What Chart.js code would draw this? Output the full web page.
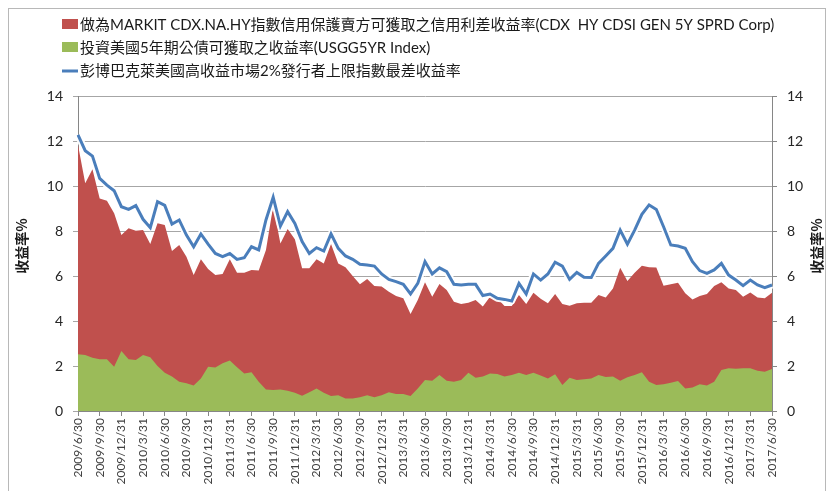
<!DOCTYPE html>
<html>
<head>
<meta charset="utf-8">
<script src="https://cdn.jsdelivr.net/npm/chart.js@4.4.1/dist/chart.umd.min.js"></script>
<style>
  html, body { margin: 0; padding: 0; background: #fff; }
  #wrap { position: relative; width: 832px; height: 491px; }
  canvas { display: block; }
</style>
</head>
<body>
<div id="wrap"><canvas id="chart" width="832" height="491"></canvas></div>
<script>
// ---- data (monthly, 2009/6/30 .. 2017/6/30) ----
const startYear = 2009, startMonth = 6, monthCount = 97;

const seriesNames = [
  '做為MARKIT CDX.NA.HY指數信用保護賣方可獲取之信用利差收益率(CDX  HY CDSI GEN 5Y SPRD Corp)',
  '投資美國5年期公債可獲取之收益率(USGG5YR Index)',
  '彭博巴克萊美國高收益市場2%發行者上限指數最差收益率'
];

// CDX HY spread yield (red area)
const cdxSpread = [
  11.82, 10.12, 10.74, 9.45, 9.35, 8.79, 7.82, 8.12, 8.01, 8.04, 7.42, 8.34, 8.27,
  7.11, 7.38, 6.86, 6.04, 6.74, 6.31, 6.04, 6.09, 6.74, 6.15, 6.15, 6.27, 6.24,
  7.16, 9.11, 7.45, 8.09, 7.63, 6.34, 6.34, 6.74, 6.56, 7.42, 6.56, 6.39, 6.00,
  5.63, 5.87, 5.56, 5.53, 5.30, 5.11, 5.01, 4.31, 4.93, 5.72, 5.08, 5.64, 5.38,
  4.86, 4.76, 4.81, 4.93, 4.64, 5.08, 5.01, 4.67, 4.67, 5.16, 4.76, 5.26, 4.99,
  4.79, 5.20, 4.76, 4.68, 4.79, 4.81, 4.81, 5.16, 5.04, 5.45, 6.37, 5.78, 6.15,
  6.46, 6.39, 6.38, 5.57, 5.63, 5.70, 5.23, 4.96, 5.11, 5.20, 5.56, 5.72, 5.45,
  5.38, 5.08, 5.27, 5.04, 5.01, 5.26
];

// US 5Y treasury yield (green area)
const treasury5y = [
  2.52, 2.49, 2.37, 2.30, 2.30, 1.97, 2.67, 2.30, 2.27, 2.49, 2.39, 2.00, 1.70,
  1.53, 1.30, 1.23, 1.13, 1.45, 1.97, 1.93, 2.12, 2.24, 1.94, 1.67, 1.72, 1.30,
  0.96, 0.93, 0.96, 0.90, 0.81, 0.68, 0.83, 1.00, 0.81, 0.67, 0.70, 0.56, 0.56,
  0.61, 0.70, 0.61, 0.70, 0.83, 0.76, 0.76, 0.67, 1.00, 1.38, 1.35, 1.60, 1.35,
  1.30, 1.38, 1.70, 1.48, 1.53, 1.67, 1.64, 1.53, 1.60, 1.70, 1.60, 1.70, 1.58,
  1.45, 1.63, 1.16, 1.48, 1.38, 1.41, 1.45, 1.60, 1.51, 1.53, 1.35, 1.50, 1.60,
  1.72, 1.30, 1.16, 1.19, 1.26, 1.33, 1.00, 1.04, 1.19, 1.13, 1.30, 1.82, 1.90,
  1.88, 1.90, 1.90, 1.79, 1.75, 1.87
];

// HY 2% issuer cap yield to worst (blue line)
const yieldToWorst = [
  12.27, 11.57, 11.33, 10.34, 10.04, 9.79, 9.08, 8.96, 9.13, 8.52, 8.15, 9.30, 9.14,
  8.31, 8.49, 7.82, 7.30, 7.87, 7.42, 7.00, 6.86, 7.00, 6.74, 6.81, 7.30, 7.16,
  8.49, 9.50, 8.22, 8.86, 8.34, 7.53, 7.00, 7.26, 7.11, 7.87, 7.23, 6.89, 6.74,
  6.52, 6.49, 6.44, 6.09, 5.85, 5.75, 5.63, 5.20, 5.67, 6.64, 6.09, 6.36, 6.19,
  5.63, 5.60, 5.63, 5.63, 5.13, 5.20, 5.01, 4.96, 4.89, 5.67, 5.20, 6.09, 5.82,
  6.09, 6.61, 6.44, 5.85, 6.16, 5.94, 5.93, 6.56, 6.89, 7.23, 8.04, 7.41, 8.04,
  8.74, 9.16, 8.96, 8.19, 7.38, 7.33, 7.23, 6.64, 6.24, 6.12, 6.27, 6.56, 6.04,
  5.82, 5.57, 5.82, 5.60, 5.48, 5.60
];

const yTicks = [0, 2, 4, 6, 8, 10, 12, 14];
const axisTitle = '收益率%';

// month-end labels, e.g. 2009/6/30
const labels = [];
for (let i = 0; i < monthCount; i++) {
  const m0 = startMonth - 1 + i;
  const y = startYear + Math.floor(m0 / 12);
  const m = (m0 % 12) + 1;
  const d = new Date(y, m, 0).getDate();
  labels.push(y + '/' + m + '/' + d);
}

const colors = { red: '#C0504D', green: '#9BBB59', blue: '#4A7EBB' };
const CJK = '"Noto Sans CJK TC", "Noto Sans CJK SC", sans-serif';

// white halo under the blue line
const lineHalo = {
  id: 'lineHalo',
  beforeDatasetDraw(chart, args) {
    if (args.index !== 2) return;
    const pts = args.meta.data;
    const ctx = chart.ctx;
    ctx.save();
    ctx.beginPath();
    pts.forEach((p, i) => i ? ctx.lineTo(p.x, p.y) : ctx.moveTo(p.x, p.y));
    ctx.strokeStyle = 'rgba(255,255,255,0.95)';
    ctx.lineWidth = 7;
    ctx.lineJoin = 'round';
    ctx.stroke();
    ctx.restore();
  }
};

// legend (stacked, top-left), axis titles and outer frame
const decorations = {
  id: 'decorations',
  afterDraw(chart) {
    const ctx = chart.ctx;
    ctx.save();
    // frame
    ctx.strokeStyle = '#b8b8b8';
    ctx.lineWidth = 1;
    ctx.strokeRect(8.5, 8.5, 817, 600);

    // legend
    const rows = [24, 47, 70];
    const widths = [698, 380, 425];
    ctx.font = '15px Lato, ' + CJK;
    ctx.textBaseline = 'middle';
    ctx.fillStyle = '#1a1a1a';
    chart.data.datasets.forEach((ds, i) => {
      const y = rows[i];
      if (i < 2) {
        ctx.fillStyle = ds.backgroundColor;
        ctx.fillRect(62, y - 5, 16, 10);
      } else {
        ctx.strokeStyle = ds.borderColor;
        ctx.lineWidth = 3;
        ctx.beginPath();
        ctx.moveTo(62, y + 1);
        ctx.lineTo(78, y + 1);
        ctx.stroke();
      }
      ctx.fillStyle = '#1a1a1a';
      ctx.textAlign = 'left';
      const w = ctx.measureText(ds.label).width;
      ctx.fillText(ds.label, 80, y + 1, Math.min(w, widths[i]));
    });

    // axis titles
    ctx.font = 'bold 14px ' + CJK;
    ctx.textAlign = 'center';
    ctx.textBaseline = 'middle';
    ctx.fillStyle = '#1a1a1a';
    [22, 817].forEach(x => {
      ctx.save();
      ctx.translate(x, 246);
      ctx.rotate(-Math.PI / 2);
      ctx.fillText(axisTitle, 0, 0);
      ctx.restore();
    });
    ctx.restore();
  }
};

const tickFont = { family: 'Lato, "Liberation Sans", sans-serif', size: 14 };

new Chart(document.getElementById('chart'), {
  type: 'line',
  data: {
    labels: labels,
    datasets: [
      {
        label: seriesNames[0],
        data: cdxSpread,
        backgroundColor: colors.red,
        borderColor: 'rgba(0,0,0,0)',
        borderWidth: 0,
        fill: 'origin',
        pointRadius: 0,
        tension: 0,
        order: 3
      },
      {
        label: seriesNames[1],
        data: treasury5y,
        backgroundColor: colors.green,
        borderColor: 'rgba(0,0,0,0)',
        borderWidth: 0,
        fill: 'origin',
        pointRadius: 0,
        tension: 0,
        order: 2
      },
      {
        label: seriesNames[2],
        data: yieldToWorst,
        borderColor: colors.blue,
        backgroundColor: colors.blue,
        borderWidth: 3,
        fill: false,
        pointRadius: 0,
        tension: 0,
        order: 1
      }
    ]
  },
  options: {
    responsive: false,
    animation: false,
    devicePixelRatio: 1,
    layout: { padding: { top: 96, left: 0, right: 0, bottom: 0 } },
    plugins: {
      legend: { display: false },
      tooltip: { enabled: false }
    },
    scales: {
      x: {
        type: 'category',
        offset: false,
        grid: { drawOnChartArea: false, drawTicks: true, tickLength: 5, color: '#868686' },
        border: { color: '#868686' },
        ticks: {
          autoSkip: false,
          maxRotation: 90,
          minRotation: 90,
          padding: 2,
          color: '#404040',
          font: { family: 'Lato, "Liberation Sans", sans-serif', size: 12 },
          callback: function (value, index) {
            return index % 3 === 0 ? this.getLabelForValue(value) : null;
          }
        },
        afterFit: s => { s.height = 80; }
      },
      y: {
        position: 'left',
        min: 0,
        max: 14,
        afterBuildTicks: s => { s.ticks = yTicks.map(v => ({ value: v })); },
        grid: { color: '#a6a6a6', tickLength: 5 },
        border: { color: '#868686' },
        ticks: { padding: 10, color: '#262626', font: tickFont },
        afterFit: s => { s.width = 78; }
      },
      y2: {
        position: 'right',
        min: 0,
        max: 14,
        afterBuildTicks: s => { s.ticks = yTicks.map(v => ({ value: v })); },
        grid: { drawOnChartArea: false, tickLength: 5, color: '#868686' },
        border: { color: '#868686' },
        ticks: { padding: 10, color: '#262626', font: tickFont },
        afterFit: s => { s.width = 60; }
      }
    }
  },
  plugins: [lineHalo, decorations]
});
</script>
</body>
</html>
